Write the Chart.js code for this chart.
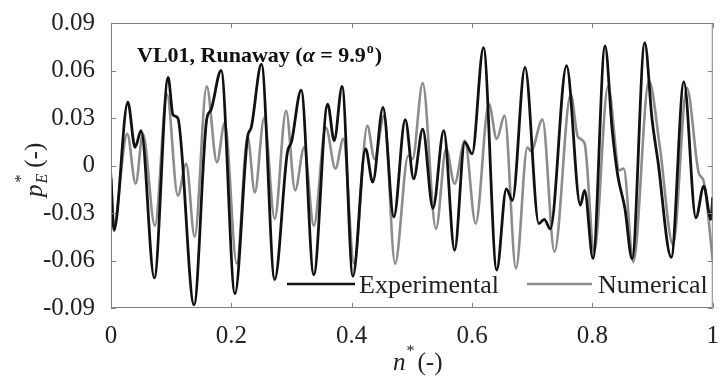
<!DOCTYPE html>
<html>
<head>
<meta charset="utf-8">
<script src="https://cdn.jsdelivr.net/npm/chart.js@4/dist/chart.umd.min.js"></script>
<style>
  body { margin: 0; background: #fff; }
  #box { width: 724px; height: 376px; position: relative; }
</style>
</head>
<body>
<div id="box"><canvas id="myChart"></canvas></div>
<script>
// Experimental (black)
const nExp = [0.000,0.005,0.028,0.040,0.050,0.072,0.095,0.103,0.111,0.138,0.159,0.166,0.183,0.206,0.227,0.233,0.250,0.272,0.293,0.300,0.316,0.337,0.360,0.371,0.384,0.402,0.423,0.435,0.452,0.470,0.489,0.503,0.518,0.535,0.553,0.571,0.588,0.600,0.619,0.641,0.657,0.667,0.688,0.711,0.720,0.730,0.757,0.780,0.787,0.801,0.821,0.833,0.842,0.854,0.866,0.887,0.899,0.909,0.931,0.952,0.972,0.985,0.997,1.000]
const pExp = [-0.008,-0.041,0.040,0.0115,0.022,-0.071,0.0556,0.032,0.030,-0.088,0.029,0.035,0.060,-0.081,0.018,0.024,0.064,-0.072,0.008,0.015,0.0476,-0.069,0.0388,0.0157,0.050,-0.070,0.0105,-0.0105,0.0367,-0.0325,0.029,-0.0084,0.023,-0.027,0.022,-0.0535,0.0147,0.0073,0.0745,-0.066,-0.0147,-0.022,0.062,-0.0367,-0.034,-0.040,0.063,-0.025,-0.0157,-0.0587,0.0755,0.022,-0.006,-0.027,-0.059,0.0776,0.0297,0.0025,-0.058,0.0528,-0.033,-0.013,-0.034,-0.020]

// Numerical (gray)
const nNum = [0.000,0.004,0.027,0.041,0.053,0.073,0.093,0.111,0.125,0.139,0.159,0.176,0.189,0.209,0.227,0.239,0.2545,0.272,0.291,0.306,0.321,0.337,0.357,0.373,0.386,0.404,0.426,0.438,0.454,0.472,0.494,0.501,0.518,0.540,0.557,0.571,0.588,0.606,0.628,0.641,0.654,0.673,0.692,0.698,0.717,0.737,0.764,0.776,0.787,0.803,0.826,0.845,0.852,0.868,0.894,0.912,0.934,0.957,0.977,0.985,1.000]
const pNum = [-0.005,-0.038,0.020,-0.0115,0.020,-0.038,0.045,-0.019,0.001,-0.045,0.050,0.002,0.027,-0.062,0.018,-0.017,0.030,-0.0336,0.0346,-0.0157,0.0115,-0.038,0.024,-0.002,0.0168,-0.062,0.025,0.004,0.0315,-0.062,0.0063,0.004,0.052,-0.040,0.0105,-0.0115,0.0157,-0.0367,0.0388,0.0168,0.0315,-0.065,0.0115,0.009,0.029,-0.0545,0.045,0.018,0.014,-0.0545,0.050,-0.003,-0.002,-0.061,0.0535,0.012,-0.050,0.049,-0.005,-0.010,-0.060]

const seriesNames = ["Experimental", "Numerical"]
const seriesColors = ["#111111", "#8c8c8c"]
const xTicks = [0, 0.2, 0.4, 0.6, 0.8, 1]
const yTicks = [-0.09, -0.06, -0.03, 0, 0.03, 0.06, 0.09]

const serif = "'Liberation Serif', 'Times New Roman', serif"

function toPoints(xs, ys) {
    return xs.map(function (x, i) { return { x: x, y: ys[i] } })
}

// box, inward ticks, axis titles, annotation and legend
const decorPlugin = {
    id: "decor",
    afterDraw(chart) {
        const ctx = chart.ctx
        const a = chart.chartArea
        const xs = chart.scales.x
        const ys = chart.scales.y
        ctx.save()
        ctx.strokeStyle = "#808080"
        ctx.lineWidth = 1
        ctx.strokeRect(a.left + 0.5, a.top + 0.5, a.right - a.left - 1, a.bottom - a.top - 1)
        ctx.beginPath()
        xTicks.forEach(function (t) {
            let px = Math.round(xs.getPixelForValue(t)) + 0.5
            ctx.moveTo(px, a.bottom); ctx.lineTo(px, a.bottom - 5)
            ctx.moveTo(px, a.top); ctx.lineTo(px, a.top + 5)
        })
        yTicks.forEach(function (t) {
            let py = Math.round(ys.getPixelForValue(t)) + 0.5
            ctx.moveTo(a.left, py); ctx.lineTo(a.left + 5, py)
            ctx.moveTo(a.right, py); ctx.lineTo(a.right - 5, py)
        })
        ctx.stroke()

        ctx.fillStyle = "#222"
        ctx.textBaseline = "alphabetic"
        ctx.textAlign = "left"

        // x title  n* (-)
        let x = 393
        ctx.font = "italic 25px " + serif
        ctx.fillText("n", x, 370)
        x += ctx.measureText("n").width + 1
        ctx.font = "16px " + serif
        ctx.fillText("*", x, 356)
        x += ctx.measureText("*").width + 3
        ctx.font = "25px " + serif
        ctx.fillText("(-)", x, 370)

        // y title  p*_E (-)
        ctx.save()
        ctx.translate(42, 165)
        ctx.rotate(-Math.PI / 2)
        let fx = -32
        ctx.font = "italic 25px " + serif
        ctx.fillText("p", fx, 0)
        fx += ctx.measureText("p").width + 1
        ctx.font = "16px " + serif
        ctx.fillText("*", fx + 1, -16)
        ctx.font = "italic 16px " + serif
        ctx.fillText("E", fx, 5)
        fx += ctx.measureText("E").width + 6
        ctx.font = "25px " + serif
        ctx.fillText("(-)", fx, 0)
        ctx.restore()

        // annotation
        x = 137
        ctx.fillStyle = "#111"
        ctx.font = "bold 22px " + serif
        ctx.fillText("VL01, Runaway (", x, 62)
        x += ctx.measureText("VL01, Runaway (").width
        ctx.font = "bold italic 22px " + serif
        ctx.fillText("\u03b1", x, 62)
        x += ctx.measureText("\u03b1").width
        ctx.font = "bold 22px " + serif
        ctx.fillText(" = 9.9", x, 62)
        x += ctx.measureText(" = 9.9").width
        ctx.font = "bold 14px " + serif
        ctx.fillText("o", x + 1, 53)
        x += ctx.measureText("o").width + 2
        ctx.font = "bold 22px " + serif
        ctx.fillText(")", x, 62)

        // legend
        const legendLines = [[287, 355, 359], [527, 592, 598]]
        ctx.font = "26px " + serif
        ctx.fillStyle = "#222"
        legendLines.forEach(function (l, i) {
            ctx.strokeStyle = seriesColors[i]
            ctx.lineWidth = 2.5
            ctx.beginPath()
            ctx.moveTo(l[0], 284); ctx.lineTo(l[1], 284)
            ctx.stroke()
            ctx.fillText(seriesNames[i], l[2], 293)
        })
        ctx.restore()
    }
}

const ctx = document.getElementById("myChart").getContext("2d")
new Chart(ctx, {
    type: "line",
    data: {
        datasets: [{
            label: seriesNames[0],
            data: toPoints(nExp, pExp),
            borderColor: seriesColors[0],
            borderWidth: 2.8,
            pointRadius: 0,
            cubicInterpolationMode: "monotone"
        }, {
            label: seriesNames[1],
            data: toPoints(nNum, pNum),
            borderColor: seriesColors[1],
            borderWidth: 2.6,
            pointRadius: 0,
            cubicInterpolationMode: "monotone"
        }]
    },
    options: {
        responsive: true,
        maintainAspectRatio: false,
        animation: false,
        layout: { padding: { top: 21, right: 4, left: 0, bottom: 0 } },
        plugins: {
            legend: { display: false },
            tooltip: { enabled: false }
        },
        scales: {
            x: {
                type: "linear",
                min: 0,
                max: 1,
                grid: { display: false },
                border: { display: false },
                afterBuildTicks: function (s) { s.ticks = xTicks.map(function (v) { return { value: v } }) },
                afterFit: function (s) { s.height = 68 },
                ticks: {
                    padding: 5,
                    color: "#222",
                    font: { family: serif, size: 25 },
                    maxRotation: 0,
                    callback: function (v) { return String(Math.round(v * 10) / 10) }
                }
            },
            y: {
                min: -0.09,
                max: 0.09,
                grid: { display: false },
                border: { display: false },
                afterBuildTicks: function (s) { s.ticks = yTicks.map(function (v) { return { value: v } }) },
                afterFit: function (s) { s.width = 111 },
                ticks: {
                    padding: 8,
                    color: "#222",
                    font: { family: serif, size: 25 },
                    callback: function (v) {
                        let r = Math.round(v * 100) / 100
                        return r === 0 ? "0" : r.toFixed(2)
                    }
                }
            }
        }
    },
    plugins: [decorPlugin]
})
</script>
</body>
</html>
